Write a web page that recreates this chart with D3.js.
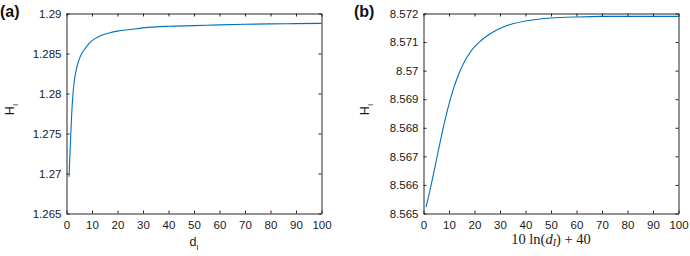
<!DOCTYPE html>
<html>
<head>
<meta charset="utf-8">
<script src="https://cdn.jsdelivr.net/npm/d3@7"></script>
<style>
  body { margin: 0; background: #fff; }
  svg { display: block; }
  .tick text { font-family: "Liberation Sans", Arial, sans-serif; font-size: 11.5px; fill: #1a1a1a; }
</style>
</head>
<body>
<div id="chart-area"></div>
<script>
// panel (a): H_I against d_I
const dA = [1, 1.5, 2, 2.5, 3, 4, 5, 6, 7, 8, 9, 10, 12, 14, 17, 20, 25, 30, 40, 50, 60, 70, 80, 90, 100]
const hA = [1.2696, 1.2735, 1.2772, 1.2798, 1.2814, 1.2832, 1.2843, 1.2850, 1.2855, 1.2859, 1.2863, 1.2866,
            1.2870, 1.2873, 1.2876, 1.2878, 1.2880, 1.2882, 1.2884, 1.28848, 1.28858, 1.28865, 1.2887, 1.28873, 1.28876]
// panel (b): H_I against 10 ln(d_I) + 40
const xB = [1, 2, 3, 4, 5, 6, 7, 8, 9, 10, 11, 12, 14, 16, 18, 20, 22, 25, 28, 31, 35, 40, 45, 50, 60, 70, 80, 90, 100]
const hB = [8.56522, 8.56560, 8.56600, 8.56642, 8.56685, 8.56728, 8.56770, 8.56810, 8.56848, 8.56883, 8.56914,
            8.56943, 8.56992, 8.57030, 8.57060, 8.57083, 8.57101, 8.57122, 8.57139, 8.57152, 8.57164, 8.57174,
            8.57180, 8.57184, 8.57188, 8.57190, 8.57190, 8.57190, 8.57190]

const xTicks = [0, 10, 20, 30, 40, 50, 60, 70, 80, 90, 100]
const yTicksA = [1.265, 1.27, 1.275, 1.28, 1.285, 1.29]
const yTicksB = [8.565, 8.566, 8.567, 8.568, 8.569, 8.57, 8.571, 8.572]

const W = 690, H = 256
const AXIS = "#262626"
const LINE = "#0072BD"
const fmt = d3.format(".6~g")

const svg = d3.select("#chart-area").append("svg")
  .attr("width", W)
  .attr("height", H)

function drawPanel(p) {
  const x = d3.scaleLinear().domain([0, 100]).range([p.left, p.right])
  const y = d3.scaleLinear().domain(p.yDomain).range([p.bottom, p.top])

  const g = svg.append("g")

  // curve
  const line = d3.line()
    .x((d, i) => x(p.xs[i]))
    .y(d => y(d))
    .curve(d3.curveMonotoneX)
  g.append("path")
    .datum(p.ys)
    .attr("fill", "none")
    .attr("stroke", LINE)
    .attr("stroke-width", 1.1)
    .attr("d", line)

  // box with inward ticks on all four sides
  g.append("g")
    .attr("transform", `translate(0, ${p.bottom})`)
    .call(d3.axisBottom(x).tickValues(xTicks).tickSize(-3).tickSizeOuter(0).tickPadding(7).tickFormat(fmt))
  g.append("g")
    .attr("transform", `translate(0, ${p.top})`)
    .call(d3.axisTop(x).tickValues(xTicks).tickSize(-3).tickSizeOuter(0).tickFormat(""))
  g.append("g")
    .attr("transform", `translate(${p.left}, 0)`)
    .call(d3.axisLeft(y).tickValues(p.yTicks).tickSize(-3).tickSizeOuter(0).tickPadding(5).tickFormat(fmt))
  g.append("g")
    .attr("transform", `translate(${p.right}, 0)`)
    .call(d3.axisRight(y).tickValues(p.yTicks).tickSize(-3).tickSizeOuter(0).tickFormat(""))

  g.selectAll(".domain").attr("stroke", AXIS)
  g.selectAll(".tick line").attr("stroke", AXIS)

  // panel letter
  svg.append("text")
    .attr("x", p.letterX)
    .attr("y", 16.5)
    .attr("font-family", "Liberation Sans, Arial, sans-serif")
    .attr("font-weight", "bold")
    .attr("font-size", "16px")
    .attr("fill", "#111")
    .text(p.letter)

  // y label H_I (rotated)
  const yl = svg.append("text")
    .attr("transform", `translate(${p.yLabelX}, ${(p.top + p.bottom) / 2 - 4}) rotate(-90)`)
    .attr("text-anchor", "middle")
    .attr("font-family", "Liberation Sans, Arial, sans-serif")
    .attr("font-size", "12.5px")
    .attr("fill", "#1a1a1a")
  yl.append("tspan").text("H")
  yl.append("tspan").attr("dy", 4).attr("font-size", "8px").text("I")
}

drawPanel({ left: 66.5, right: 321.5, top: 13.5, bottom: 213.5,
  yDomain: [1.265, 1.29], yTicks: yTicksA, xs: dA, ys: hA,
  letter: "(a)", letterX: 0, yLabelX: 14 })

drawPanel({ left: 423.5, right: 678.5, top: 13.5, bottom: 213.5,
  yDomain: [8.565, 8.572], yTicks: yTicksB, xs: xB, ys: hB,
  letter: "(b)", letterX: 354, yLabelX: 369 })

// x label (a): d_I
const xlA = svg.append("text")
  .attr("x", 194)
  .attr("y", 246)
  .attr("text-anchor", "middle")
  .attr("font-family", "Liberation Sans, Arial, sans-serif")
  .attr("font-size", "12.5px")
  .attr("fill", "#1a1a1a")
xlA.append("tspan").text("d")
xlA.append("tspan").attr("dy", 4).attr("font-size", "8px").text("I")

// x label (b): 10 ln(d_I) + 40, LaTeX style
const xlB = svg.append("text")
  .attr("x", 551)
  .attr("y", 244)
  .attr("text-anchor", "middle")
  .attr("font-family", "Liberation Serif, Times New Roman, serif")
  .attr("font-size", "14.5px")
  .attr("fill", "#1a1a1a")
xlB.append("tspan").text("10 ln(")
xlB.append("tspan").attr("font-style", "italic").text("d")
xlB.append("tspan").attr("font-style", "italic").attr("font-size", "10px").attr("dy", 2).text("I")
xlB.append("tspan").attr("dy", -2).text(") + 40")
</script>
</body>
</html>
